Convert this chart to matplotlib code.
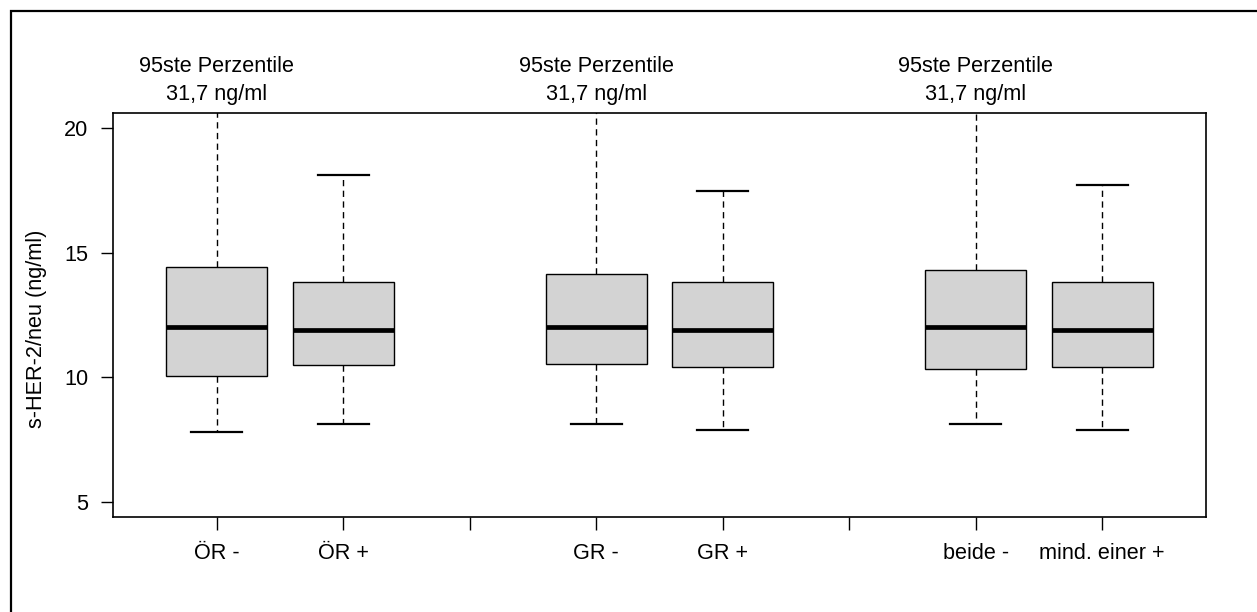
import matplotlib
matplotlib.use("Agg")
import matplotlib.pyplot as plt
from matplotlib.patches import Rectangle

plt.rcParams['font.family'] = ['Liberation Sans', 'DejaVu Sans']

# Kennwerte der Boxplots (ng/ml)
labels = ['ÖR -', 'ÖR +', 'GR -', 'GR +', 'beide -', 'mind. einer +']
positions = [1, 2, 4, 5, 7, 8]
q1 = [10.06, 10.51, 10.53, 10.41, 10.35, 10.41]
median = [12.02, 11.91, 12.03, 11.91, 12.03, 11.91]
q3 = [14.44, 13.82, 14.15, 13.82, 14.32, 13.82]
whis_low = [7.79, 8.14, 8.12, 7.90, 8.12, 7.90]
whis_high = [31.7, 18.10, 31.7, 17.49, 31.7, 17.72]

# Beschriftung der abgeschnittenen Whisker
p95_label = '95ste Perzentile'
p95_value = '31,7 ng/ml'
p95_positions = [1, 4, 7]

stats = []
for i in range(len(labels)):
    stats.append({'label': labels[i], 'q1': q1[i], 'med': median[i], 'q3': q3[i],
                  'whislo': whis_low[i], 'whishi': whis_high[i], 'fliers': []})

fig = plt.figure(figsize=(12.57, 6.12), dpi=100)
ax = fig.add_axes([113 / 1257, 1 - 517 / 612, (1206 - 113) / 1257, (517 - 113) / 612])

ax.bxp(stats, positions=positions, widths=0.8, capwidths=0.4, patch_artist=True,
       showfliers=False,
       boxprops=dict(facecolor='#d3d3d3', edgecolor='black', linewidth=1.0),
       medianprops=dict(color='black', linewidth=3.4, solid_capstyle='butt'),
       whiskerprops=dict(color='black', linewidth=1.0, linestyle=(0, (4.5, 3.2))),
       capprops=dict(color='black', linewidth=1.6))

ax.set_xlim(0.18, 8.82)
ax.set_ylim(4.4, 20.6)
ax.set_yticks([5, 10, 15, 20])
ax.set_xticks(range(1, 9))
tick_labels = ['' for _ in range(8)]
for p, lab in zip(positions, labels):
    tick_labels[p - 1] = lab
ax.set_xticklabels(tick_labels)

ax.tick_params(axis='both', length=9, width=1.0, labelsize=15.6, color='black')
ax.tick_params(axis='y', pad=9)
ax.tick_params(axis='x', pad=10)
for s in ax.spines.values():
    s.set_linewidth(1.2)

ax.set_ylabel('s-HER-2/neu (ng/ml)', fontsize=15.6)
ax.yaxis.set_label_coords(-0.060, 0.465)

for p in p95_positions:
    ax.text(p, 1.114, p95_label, transform=ax.get_xaxis_transform(),
            ha='center', va='center', fontsize=15.6)
    ax.text(p, 1.047, p95_value, transform=ax.get_xaxis_transform(),
            ha='center', va='center', fontsize=15.6)

# Rahmen um die gesamte Grafik (rechts und unten abgeschnitten)
frame_left = 11 / 1257
frame_top = 1 - 11 / 612
fig.patches.append(Rectangle((frame_left, -0.2), 1.2, frame_top + 0.2,
                             transform=fig.transFigure, fill=False,
                             edgecolor='black', linewidth=1.6))

fig.savefig('out.png', dpi=100)
